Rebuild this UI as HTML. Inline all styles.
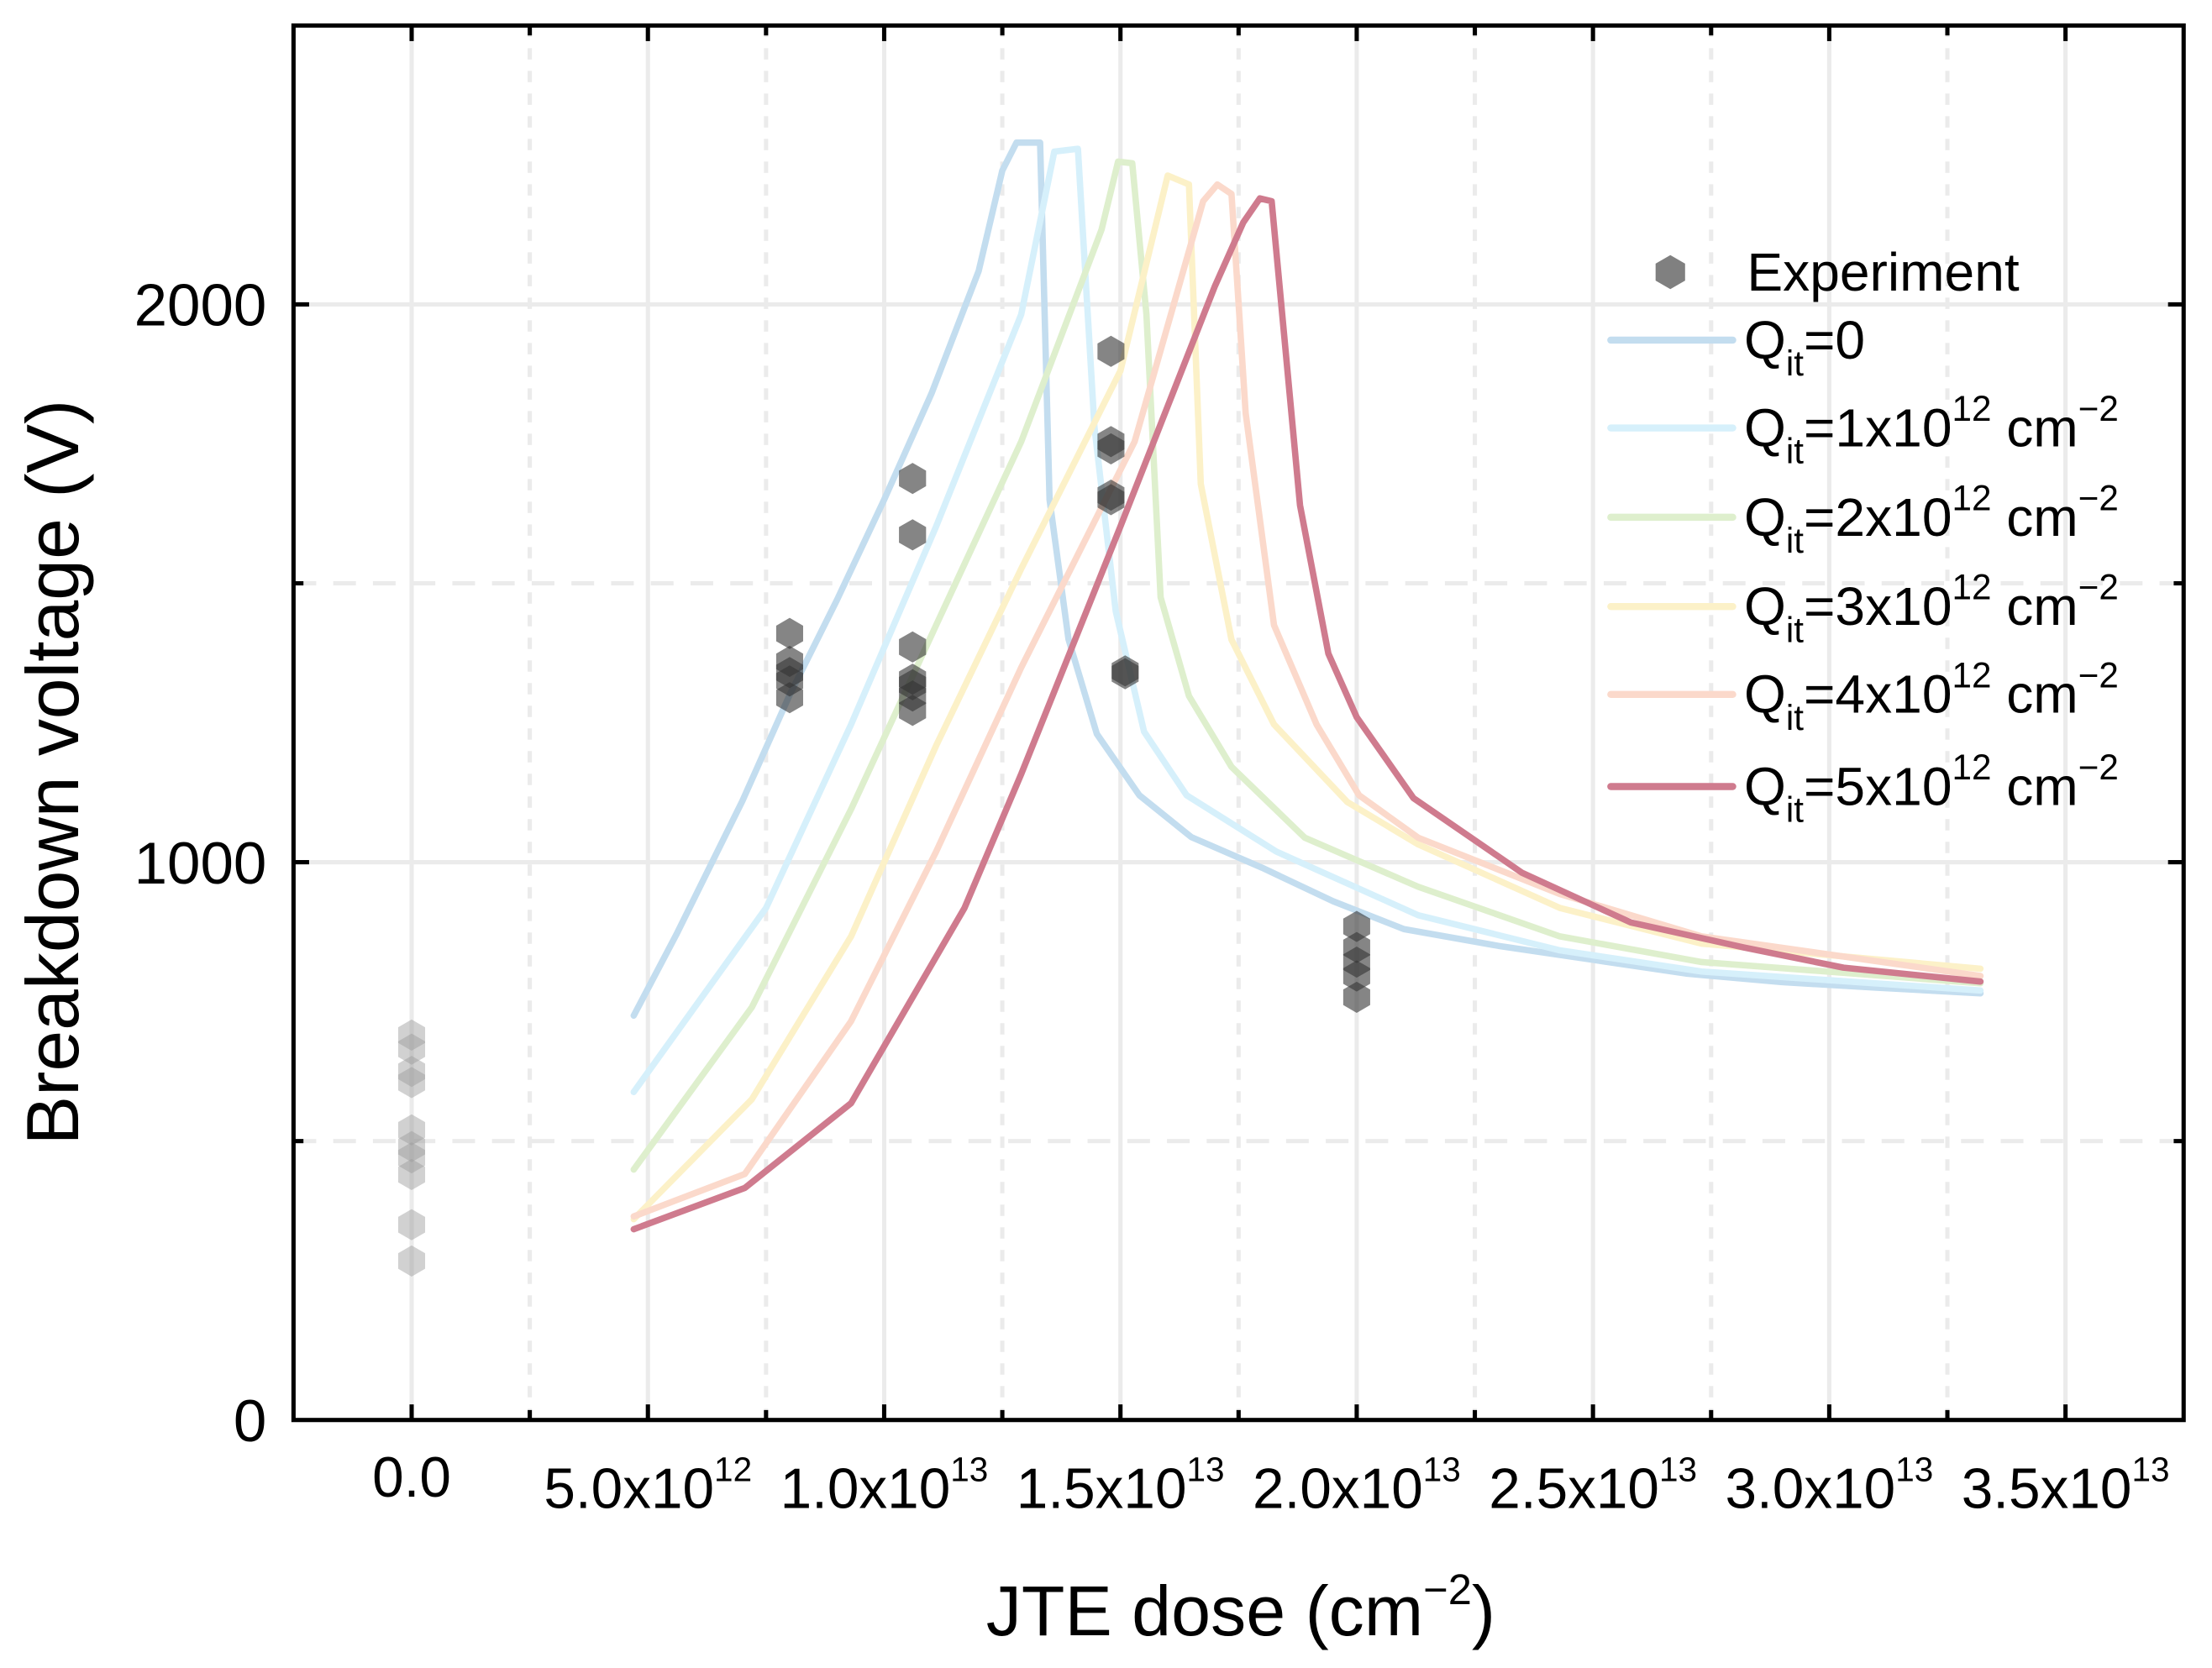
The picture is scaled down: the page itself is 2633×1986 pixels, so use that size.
<!DOCTYPE html>
<html><head><meta charset="utf-8"><style>
html,body{margin:0;padding:0;background:#fff;}
svg{display:block;font-family:"Liberation Sans",Arial,sans-serif;}
</style></head><body>
<svg id="chart" xmlns="http://www.w3.org/2000/svg" width="2633" height="1986" viewBox="0 0 1560 1177" preserveAspectRatio="none">
<g id="grid"></g>
<g id="series"></g>
<g id="points"></g>
<g id="axes"></g>
<g id="legend"></g>
<text transform="translate(55,545) rotate(-90)" text-anchor="middle" font-size="52">Breakdown voltage (V)</text>
<text x="875" y="1154" text-anchor="middle" font-size="50">JTE dose (cm<tspan dy="-22" font-size="30">−2</tspan><tspan dy="22">)</tspan></text>
</svg>
<script>
// x in units of 1e12 cm^-2, y in V
const xTicksMajor = [0,5,10,15,20,25,30,35];
const xTickLabels = [["0.0",""],["5.0x10","12"],["1.0x10","13"],["1.5x10","13"],["2.0x10","13"],["2.5x10","13"],["3.0x10","13"],["3.5x10","13"]];
const yTicksMajor = [0,1000,2000];
const yTickLabels = ["0","1000","2000"];
const seriesNames = ["Qit=0","Qit=1x10^12","Qit=2x10^12","Qit=3x10^12","Qit=4x10^12","Qit=5x10^12"];
const s0 = [[4.7,725],[5.6,870],[7,1110],[8,1300],[9,1470],[10,1650],[11,1840],[12,2060],[12.5,2240],[12.8,2290],[13.3,2290],[13.5,1650],[13.9,1400],[14.5,1230],[15.4,1120],[16.5,1045],[18,990],[19.5,930],[21,880],[23,850],[25,825],[27,800],[29,785],[31,775],[33.2,765]];
const s1 = [[4.7,588],[7.5,918],[9.3,1247],[11.1,1602],[12.9,1982],[13.6,2274],[14.1,2279],[14.45,1780],[14.9,1450],[15.5,1234],[16.4,1120],[18.3,1019],[21.3,905],[24.3,842],[27.3,804],[33.2,770]];
const s2 = [[4.7,449],[7.2,740],[9.3,1095],[11.1,1425],[12.9,1754],[14.6,2134],[14.95,2256],[15.25,2253],[15.55,1982],[15.85,1475],[16.45,1298],[17.35,1171],[18.9,1044],[21.3,956],[24.3,867],[27.3,821],[33.2,783]];
const s3 = [[4.7,360],[7.2,575],[9.3,867],[11.1,1209],[12.9,1526],[15,1881],[16.0,2231],[16.45,2215],[16.7,1678],[17.35,1399],[18.25,1247],[19.8,1108],[21.3,1032],[24.3,918],[27.3,854],[33.2,809]];
const s4 = [[4.7,365],[7.05,441],[9.3,715],[11.1,1019],[12.9,1349],[15.3,1754],[16.75,2185],[17.05,2215],[17.35,2198],[17.65,1805],[18.25,1425],[19.15,1247],[20.05,1120],[21.3,1044],[24.3,943],[27.3,867],[33.2,796]];
const s5 = [[4.7,342],[7.05,416],[9.3,568],[11.7,918],[12.9,1158],[15,1602],[17.0,2033],[17.6,2147],[17.95,2190],[18.2,2185],[18.8,1640],[19.4,1374],[20.0,1260],[21.2,1115],[23.5,981],[25.8,892],[28.2,847],[30.3,811],[33.2,786]];
const expX = [0,0,0,0,0,0,0,0,0,0, 8,8,8,8,8, 10.6,10.6,10.6,10.6,10.6,10.6,10.6, 14.8,14.8,14.8,14.8,14.8, 15.1,15.1, 20,20,20,20,20];
const expY = [690,665,625,605,520,490,470,440,350,285, 1410,1360,1340,1325,1295, 1688,1587,1386,1328,1318,1298,1272, 1916,1754,1741,1658,1650, 1343,1338, 885,847,821,796,758];

const L=207,R=1540,T=18,B=1002, XMIN=-2.5,XMAX=37.5,YMIN=0,YMAX=2500;
const xS=v=>L+(v-XMIN)/(XMAX-XMIN)*(R-L);
const yS=v=>B-(v-YMIN)/(YMAX-YMIN)*(B-T);
const NS="http://www.w3.org/2000/svg";
function mk(tag,attrs,parent){const e=document.createElementNS(NS,tag);for(const k in attrs)e.setAttribute(k,attrs[k]);parent.appendChild(e);return e;}
const grid=document.getElementById('grid'),axes=document.getElementById('axes'),ser=document.getElementById('series'),pts=document.getElementById('points'),leg=document.getElementById('legend');
for(let v=0;v<=35;v+=2.5){const major=(v%5===0);const g=mk('line',{x1:xS(v),x2:xS(v),y1:T,y2:B,stroke:'#ebebeb','stroke-width':3,'stroke-dasharray':major?'none':'8 8'},grid);

}
for(let v=500;v<=2000;v+=500){const major=(v%1000===0);const g=mk('line',{x1:L,x2:R,y1:yS(v),y2:yS(v),stroke:'#ebebeb','stroke-width':3,'stroke-dasharray':major?'none':'16 12'},grid);

}
const cols=['#c3ddef','#d6f0fb','#deefcd','#fcf1c8','#fbd9cb','#cf7b8e'];
[s0,s1,s2,s3,s4,s5].forEach((s,i)=>{const p=mk('polyline',{points:s.map(d=>xS(d[0])+','+yS(d[1])).join(' '),fill:'none',stroke:cols[i],'stroke-width':4.5,'stroke-linejoin':'round','stroke-linecap':'round'},ser);

});
function hex(cx,cy,r){let a=[];for(let k=0;k<6;k++){const t=Math.PI/2+k*Math.PI/3;a.push((cx+r*Math.cos(t)).toFixed(1)+','+(cy-r*Math.sin(t)).toFixed(1));}return a.join(' ');}
expX.forEach((x,i)=>{const h=mk('polygon',{points:hex(xS(x),yS(expY[i]),11),fill:x===0?'#9a9a9a':'#333','fill-opacity':x===0?0.45:0.6},pts);

});
const fr=mk('rect',{x:L,y:T,width:R-L,height:B-T,fill:'none',stroke:'#000','stroke-width':3},axes);


for(let v=0;v<=35;v+=2.5){const len=(v%5===0)?11:7;
const t1=mk('line',{x1:xS(v),x2:xS(v),y1:B,y2:B-len,stroke:'#000','stroke-width':3},axes);


const t2=mk('line',{x1:xS(v),x2:xS(v),y1:T,y2:T+len,stroke:'#000','stroke-width':3},axes);

}
for(let v=500;v<=2000;v+=500){const len=(v%1000===0)?11:7;
const t1=mk('line',{x1:L,x2:L+len,y1:yS(v),y2:yS(v),stroke:'#000','stroke-width':3},axes);


const t2=mk('line',{x1:R,x2:R-len,y1:yS(v),y2:yS(v),stroke:'#000','stroke-width':3},axes);

}
xTicksMajor.forEach((v,i)=>{const t=mk('text',{x:xS(v),y:i===0?1056:1064,'text-anchor':'middle','font-size':40},axes);


t.appendChild(document.createTextNode(xTickLabels[i][0]));
if(xTickLabels[i][1]){const s=mk('tspan',{dy:-19,'font-size':24},t);s.textContent=xTickLabels[i][1];}});
yTicksMajor.forEach((v,i)=>{const t=mk('text',{x:188,y:yS(v)+15,'text-anchor':'end','font-size':42},axes);


t.textContent=yTickLabels[i];});
const lh=mk('polygon',{points:hex(1178,192,12),fill:'#555','fill-opacity':0.75},leg);


const lt=mk('text',{x:1232,y:205,'font-size':38},leg);


lt.textContent='Experiment';
const legY=[240,302,365,428,490,555];
const legNum=['','1','2','3','4','5'];
legY.forEach((y,i)=>{const l=mk('line',{x1:1136,x2:1222,y1:y,y2:y,stroke:cols[i],'stroke-width':5,'stroke-linecap':'round'},leg);


const t=mk('text',{x:1230,y:y+13,'font-size':38},leg);


t.appendChild(document.createTextNode('Q'));
const sub=mk('tspan',{dy:12,'font-size':25},t);sub.textContent='it';
const eq=mk('tspan',{dy:-12},t);
if(i===0){eq.textContent='=0';}
else{eq.textContent='='+legNum[i]+'x10';
const sp=mk('tspan',{dy:-18,'font-size':25},t);sp.textContent='12';
const cm=mk('tspan',{dy:18},t);cm.textContent=' cm';
const sp2=mk('tspan',{dy:-18,'font-size':25},t);sp2.textContent='−2';}});
</script>
</body></html>
